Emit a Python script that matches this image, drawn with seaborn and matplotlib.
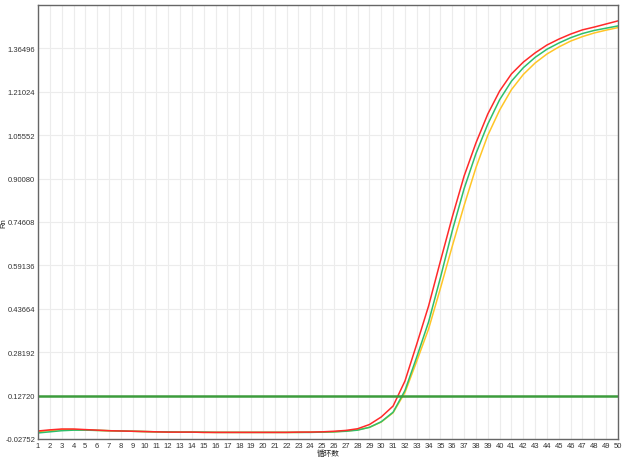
import pandas as pd
import numpy as np
import matplotlib.pyplot as plt
import seaborn as sns

cycles = list(range(1, 51))

# Rn values
red = [0.001, 0.005, 0.008, 0.008, 0.006, 0.004, 0.002, 0.001, 0.000, -0.001,
       -0.002, -0.003, -0.003, -0.003, -0.004, -0.004, -0.004, -0.004, -0.004, -0.004,
       -0.004, -0.004, -0.003, -0.003, -0.002, 0.000, 0.003, 0.009, 0.024, 0.051,
       0.090, 0.179, 0.311, 0.447, 0.607, 0.764, 0.910, 1.028, 1.131, 1.213,
       1.274, 1.316, 1.349, 1.377, 1.398, 1.416, 1.431, 1.441, 1.452, 1.463]
green = [-0.006, -0.002, 0.002, 0.004, 0.004, 0.003, 0.002, 0.001, 0.000, -0.001,
         -0.002, -0.002, -0.003, -0.003, -0.003, -0.004, -0.004, -0.004, -0.004, -0.004,
         -0.004, -0.004, -0.004, -0.004, -0.003, -0.002, 0.000, 0.004, 0.014, 0.034,
         0.068, 0.145, 0.265, 0.390, 0.548, 0.715, 0.865, 0.990, 1.095, 1.182,
         1.248, 1.296, 1.333, 1.362, 1.384, 1.403, 1.418, 1.429, 1.437, 1.445]
yellow = [-0.001, 0.003, 0.006, 0.006, 0.005, 0.003, 0.002, 0.001, 0.000, -0.001,
          -0.002, -0.003, -0.003, -0.003, -0.004, -0.004, -0.004, -0.004, -0.004, -0.004,
          -0.004, -0.004, -0.004, -0.003, -0.003, -0.002, 0.001, 0.005, 0.014, 0.033,
          0.066, 0.138, 0.250, 0.365, 0.510, 0.660, 0.805, 0.940, 1.055, 1.145,
          1.218, 1.272, 1.313, 1.345, 1.370, 1.391, 1.407, 1.420, 1.430, 1.439]
threshold = 0.12720

y_ticks = [-0.02752, 0.12720, 0.28192, 0.43664, 0.59136, 0.74608,
           0.90080, 1.05552, 1.21024, 1.36496]

df = pd.DataFrame({"cycle": cycles * 3,
                   "rn": yellow + green + red,
                   "well": ["yellow"] * 50 + ["green"] * 50 + ["red"] * 50})

sns.set_style("whitegrid")
plt.rcParams['font.family'] = ['Liberation Sans', 'Noto Sans CJK SC', 'DejaVu Sans']

fig = plt.figure(figsize=(6.25, 4.6), dpi=100)
ax = fig.add_axes([0.0608, 0.0435, 0.928, 0.9435])

sns.lineplot(data=df, x="cycle", y="rn", hue="well",
             palette={"yellow": "#ffc526", "green": "#2fbf6b", "red": "#ff2a2a"},
             linewidth=1.1, legend=False, ax=ax)
ax.axhline(threshold, color="#3c9c3c", linewidth=1.8)

ax.set_xlim(1, 50)
ax.set_ylim(-0.02752, 1.51968)
ax.set_xticks(cycles)
ax.set_xticklabels([str(c) for c in cycles], fontsize=5.5, color="#333333")
ax.set_yticks(y_ticks)
ax.set_yticklabels(["%.5f" % v for v in y_ticks], fontsize=5.5, color="#333333")
ax.tick_params(axis="both", length=0, pad=2)

ax.grid(True, color="#ececec", linewidth=0.8)
for s in ax.spines.values():
    s.set_color("#666666")
    s.set_linewidth(1.0)

ax.set_xlabel("循环数", fontsize=5.5)
ax.xaxis.set_label_coords(0.5, -0.024)
ax.set_ylabel("Rn", fontsize=5.5)
ax.yaxis.set_label_coords(-0.052, 0.5)

fig.savefig("out.png", dpi=100)
